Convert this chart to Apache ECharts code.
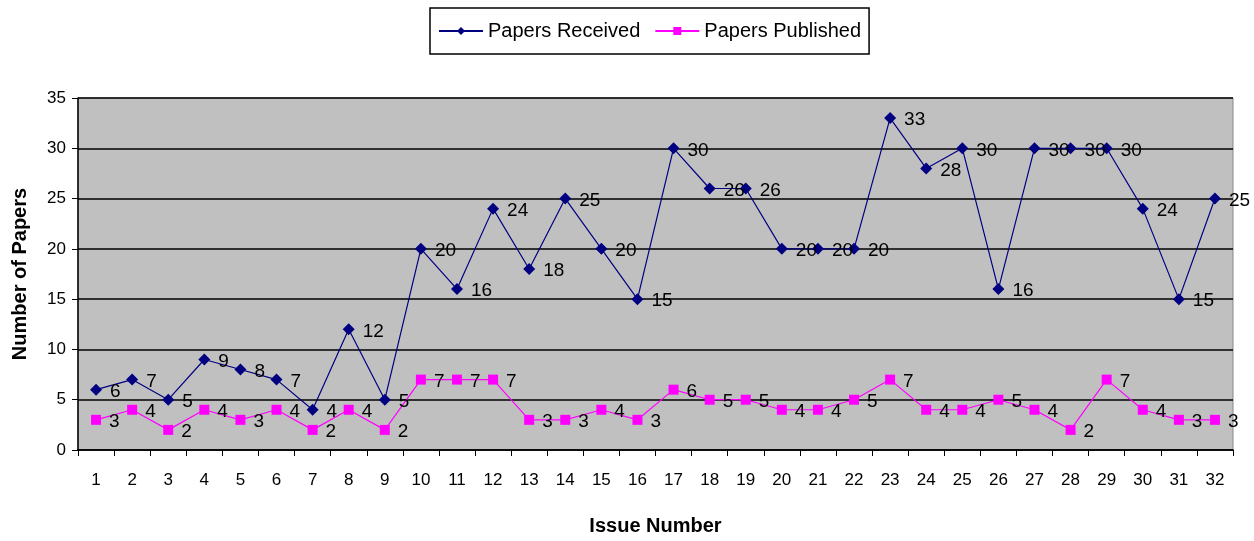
<!DOCTYPE html>
<html><head><meta charset="utf-8">
<script src="https://cdn.jsdelivr.net/npm/echarts@6/dist/echarts.min.js"></script>
<style>html,body{margin:0;padding:0;background:#fff}#c{width:1254px;height:541px}</style>
</head><body><div id="c"></div>
<script>
const categories = ['1','2','3','4','5','6','7','8','9','10','11','12','13','14','15','16','17','18','19','20','21','22','23','24','25','26','27','28','29','30','31','32'];
const papersReceived = [6,7,5,9,8,7,4,12,5,20,16,24,18,25,20,15,30,26,26,20,20,20,33,28,30,16,30,30,30,24,15,25];
const papersPublished = [3,4,2,4,3,4,2,4,2,7,7,7,3,3,4,3,6,5,5,4,4,5,7,4,4,5,4,2,7,4,3,3];
const yTicks = [0,5,10,15,20,25,30,35];

const chart = echarts.init(document.getElementById('c'));
const font = 'Liberation Sans, Arial, sans-serif';
const lbl = {show:true, position:'right', distance:8, offset:[0,2], color:'#000', fontSize:19, fontFamily:font};
chart.setOption({
  animation:false,
  legend:{
    top:8, left:430,
    data:['Papers Received','Papers Published'],
    borderColor:'#000', borderWidth:1.5, padding:[13,8,13,8],
    itemWidth:44, itemHeight:10, itemGap:14,
    textStyle:{fontSize:20, fontFamily:font, color:'#000'}
  },
  grid:{left:78, right:21, top:98, bottom:87, show:true, backgroundColor:'#c0c0c0', borderColor:'#888', borderWidth:1},
  xAxis:{
    type:'category', data:categories, boundaryGap:true,
    name:'Issue Number', nameLocation:'middle', nameGap:66,
    nameTextStyle:{fontSize:20, fontWeight:'bold', fontFamily:font, color:'#000'},
    axisLine:{lineStyle:{color:'#000', width:1.5}},
    axisTick:{show:true, alignWithLabel:false, length:6, lineStyle:{color:'#000'}},
    axisLabel:{fontSize:17, fontFamily:font, color:'#000', margin:22, interval:0}
  },
  yAxis:{
    type:'value', min:0, max:35, interval:5,
    name:'Number of Papers', nameLocation:'middle', nameGap:48,
    nameTextStyle:{fontSize:20, fontWeight:'bold', fontFamily:font, color:'#000'},
    axisLine:{show:true, lineStyle:{color:'#000', width:1.5}},
    axisTick:{show:true, length:6, lineStyle:{color:'#000'}},
    axisLabel:{fontSize:17, fontFamily:font, color:'#000', margin:12,
      formatter:v=>yTicks.includes(v)?String(v):''},
    splitLine:{show:true, lineStyle:{color:'#000', width:1.5}}
  },
  series:[
    {name:'Papers Received', type:'line', data:papersReceived, symbol:'diamond', symbolSize:12,
     itemStyle:{color:'#000080'}, lineStyle:{color:'#000080', width:1.2}, label:lbl},
    {name:'Papers Published', type:'line', data:papersPublished, symbol:'rect', symbolSize:10,
     itemStyle:{color:'#ff00ff'}, lineStyle:{color:'#ff00ff', width:1.2}, label:lbl}
  ]
});
</script></body></html>
